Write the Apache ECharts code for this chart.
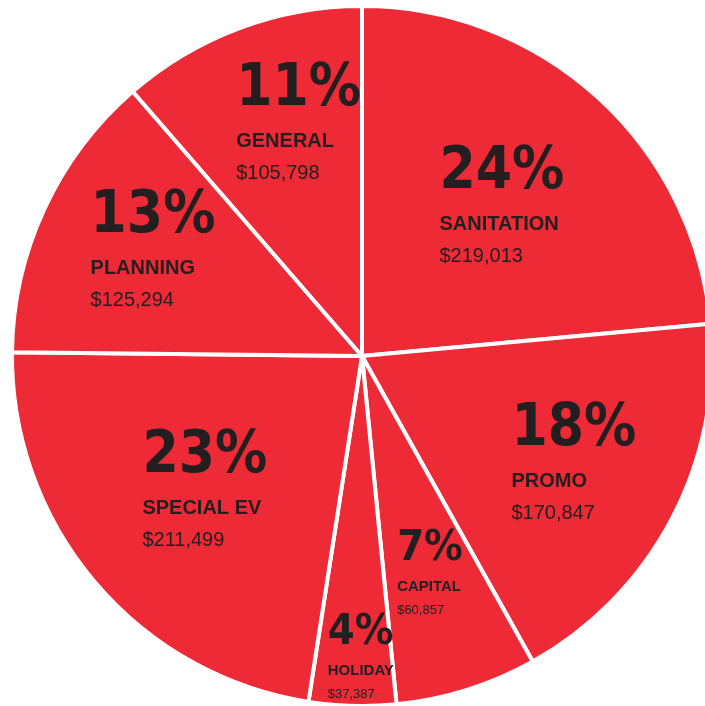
<!DOCTYPE html>
<html>
<head>
<meta charset="utf-8">
<style>
  html, body { margin: 0; padding: 0; background: #ffffff; }
  #chart { width: 705px; height: 706px; }
</style>
<script src="https://cdn.jsdelivr.net/npm/echarts@6/dist/echarts.min.js"></script>
</head>
<body>
<div id="chart"></div>
<script>
const categories = ['SANITATION', 'PROMO', 'CAPITAL', 'HOLIDAY', 'SPECIAL EV', 'PLANNING', 'GENERAL'];
const values = [219013, 170847, 60857, 37387, 211499, 125294, 105798];

const RED = '#ED2A35';
const INK = '#231F20';
const PCT_FONT = '"Liberation Sans Narrow", "DejaVu Sans Condensed", "Liberation Sans", sans-serif';
const TXT_FONT = '"Liberation Sans", "DejaVu Sans", sans-serif';

const chart = echarts.init(document.getElementById('chart'), null, { renderer: 'canvas' });

const R = 350;
const center = [362, 356];

const pieData = categories.map((name, i) => ({ name, value: values[i] }));

// label tuning offsets (style only)
const labelOffsets = {
  'SANITATION': [-13, 17],
  'PROMO': [11, 0],
  'CAPITAL': [0, 0],
  'HOLIDAY': [5, 74],
  'SPECIAL EV': [16, -14],
  'PLANNING': [-3, -12],
  'GENERAL': [16, -21]
};

const labelData = categories.map((name, i) => {
  const item = { name, value: values[i] };
  if (labelOffsets[name]) item.label = { offset: labelOffsets[name] };
  return item;
});

const option = {
  backgroundColor: '#ffffff',
  animation: false,
  series: [
    {
      type: 'pie',
      center: center,
      radius: [0, R],
      startAngle: 90,
      clockwise: true,
      percentPrecision: 0,
      avoidLabelOverlap: false,
      silent: true,
      itemStyle: { color: RED, borderColor: '#ffffff', borderWidth: 4 },
      label: { show: false },
      labelLine: { show: false },
      emphasis: { disabled: true },
      data: pieData
    },
    {
      type: 'pie',
      center: center,
      radius: [R * 0.28, R],
      startAngle: 90,
      clockwise: true,
      percentPrecision: 0,
      avoidLabelOverlap: false,
      silent: true,
      itemStyle: { color: 'rgba(0,0,0,0)', borderWidth: 0 },
      labelLine: { show: false },
      emphasis: { disabled: true },
      label: {
        show: true,
        position: 'inside',
        color: INK,
        formatter: function (p) {
          const small = p.percent < 10;
          const s = small ? 's' : '';
          return '{p' + s + '|' + p.percent + '%}\n{n' + s + '|' + p.name + '}\n{v' + s + '|$' + echarts.format.addCommas(p.value) + '}';
        },
        rich: {
          p:  { fontFamily: PCT_FONT, fontWeight: 'bold', fontSize: 58, lineHeight: 73, color: INK, align: 'left' },
          n:  { fontFamily: TXT_FONT, fontWeight: 'bold', fontSize: 20, lineHeight: 30, color: INK, align: 'left' },
          v:  { fontFamily: TXT_FONT, fontWeight: 'normal', fontSize: 20, lineHeight: 34, color: INK, align: 'left' },
          ps: { fontFamily: PCT_FONT, fontWeight: 'bold', fontSize: 43, lineHeight: 54, color: INK, align: 'left' },
          ns: { fontFamily: TXT_FONT, fontWeight: 'bold', fontSize: 15, lineHeight: 22, color: INK, align: 'left' },
          vs: { fontFamily: TXT_FONT, fontWeight: 'normal', fontSize: 13, lineHeight: 26, color: INK, align: 'left' }
        }
      },
      data: labelData
    }
  ]
};

chart.setOption(option);
</script>
</body>
</html>
